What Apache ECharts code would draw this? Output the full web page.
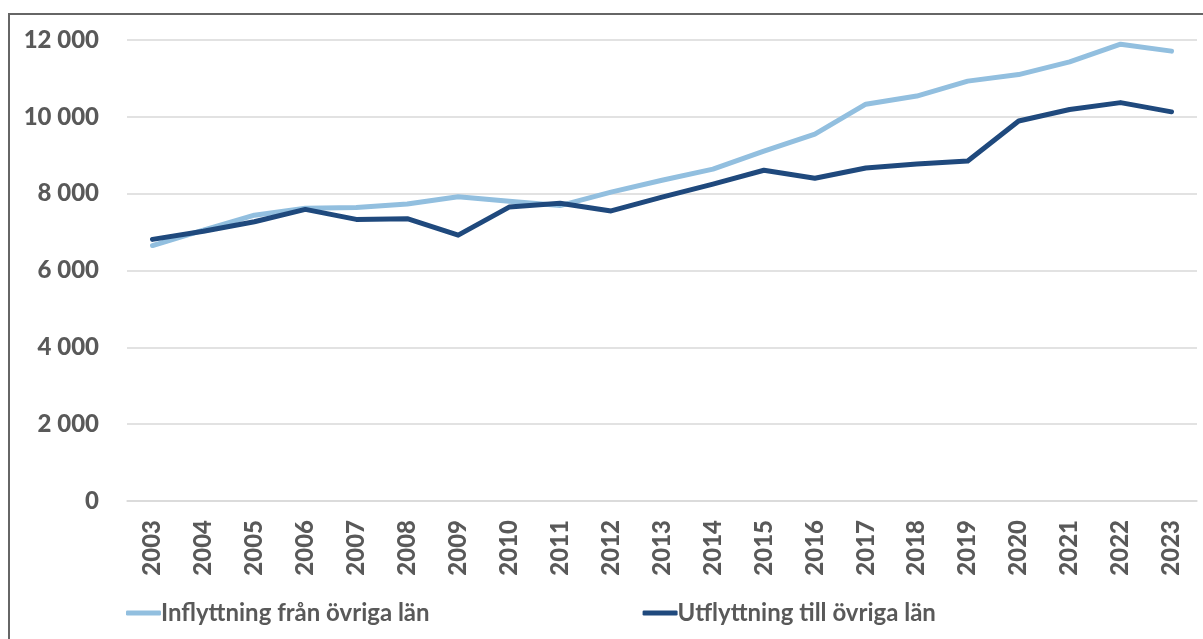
<!DOCTYPE html>
<html>
<head>
<meta charset="utf-8">
<script src="https://cdn.jsdelivr.net/npm/echarts@6/dist/echarts.min.js"></script>
<style>
  html, body { margin: 0; padding: 0; background: #fff; }
  #chart { width: 1203px; height: 639px; position: relative; }
  #frame { position: absolute; left: 8px; top: 13px; width: 1300px; height: 700px;
           border-left: 2px solid #666; border-top: 2px solid #666; pointer-events: none; }
</style>
</head>
<body>
<div id="chart"></div>
<div id="frame"></div>
<script>
var years = ['2003','2004','2005','2006','2007','2008','2009','2010','2011','2012','2013',
             '2014','2015','2016','2017','2018','2019','2020','2021','2022','2023'];
var inflyttning = [6650, 7050, 7440, 7620, 7640, 7730, 7920, 7800, 7690, 8040, 8350,
                   8640, 9110, 9550, 10330, 10540, 10930, 11100, 11430, 11890, 11710];
var utflyttning = [6810, 7020, 7270, 7590, 7330, 7350, 6920, 7650, 7750, 7550, 7910,
                   8250, 8610, 8400, 8670, 8770, 8850, 9890, 10190, 10370, 10130];
var seriesNames = ['Inflyttning från övriga län', 'Utflyttning till övriga län'];

var myChart = echarts.init(document.getElementById('chart'));
var option = {
  animation: false,
  textStyle: { fontFamily: 'Lato' },
  grid: { left: 127, right: 6, top: 40, bottom: 138 },
  legend: {
    data: seriesNames,
    left: 121,
    top: 596,
    itemGap: 213,
    itemWidth: 35,
    itemHeight: 5,
    icon: 'roundRect',
    textStyle: { color: '#595959', fontSize: 24, fontWeight: 'bold', padding: [0, 0, 0, -5] }
  },
  xAxis: {
    type: 'category',
    data: years,
    boundaryGap: true,
    axisLine: { show: true, lineStyle: { color: '#d9d9d9', width: 1.5 } },
    axisTick: { show: false },
    axisLabel: { rotate: 90, margin: 19, color: '#595959', fontSize: 24, fontWeight: 900 }
  },
  yAxis: {
    type: 'value',
    min: 0, max: 12000, interval: 2000,
    axisLine: { show: false },
    axisTick: { show: false },
    splitLine: { lineStyle: { color: '#d9d9d9', width: 1.5 } },
    axisLabel: {
      margin: 28, color: '#595959', fontSize: 24, fontWeight: 900,
      formatter: function (v) { return String(v).replace(/\B(?=(\d{3})+(?!\d))/g, ' '); }
    }
  },
  series: [
    {
      name: seriesNames[0], type: 'line', data: inflyttning,
      symbol: 'none', color: '#92bfdf',
      lineStyle: { width: 5, cap: 'round', join: 'round' }
    },
    {
      name: seriesNames[1], type: 'line', data: utflyttning,
      symbol: 'none', color: '#1f497d',
      lineStyle: { width: 5, cap: 'round', join: 'round' }
    }
  ]
};
myChart.setOption(option, true);
</script>
</body>
</html>
